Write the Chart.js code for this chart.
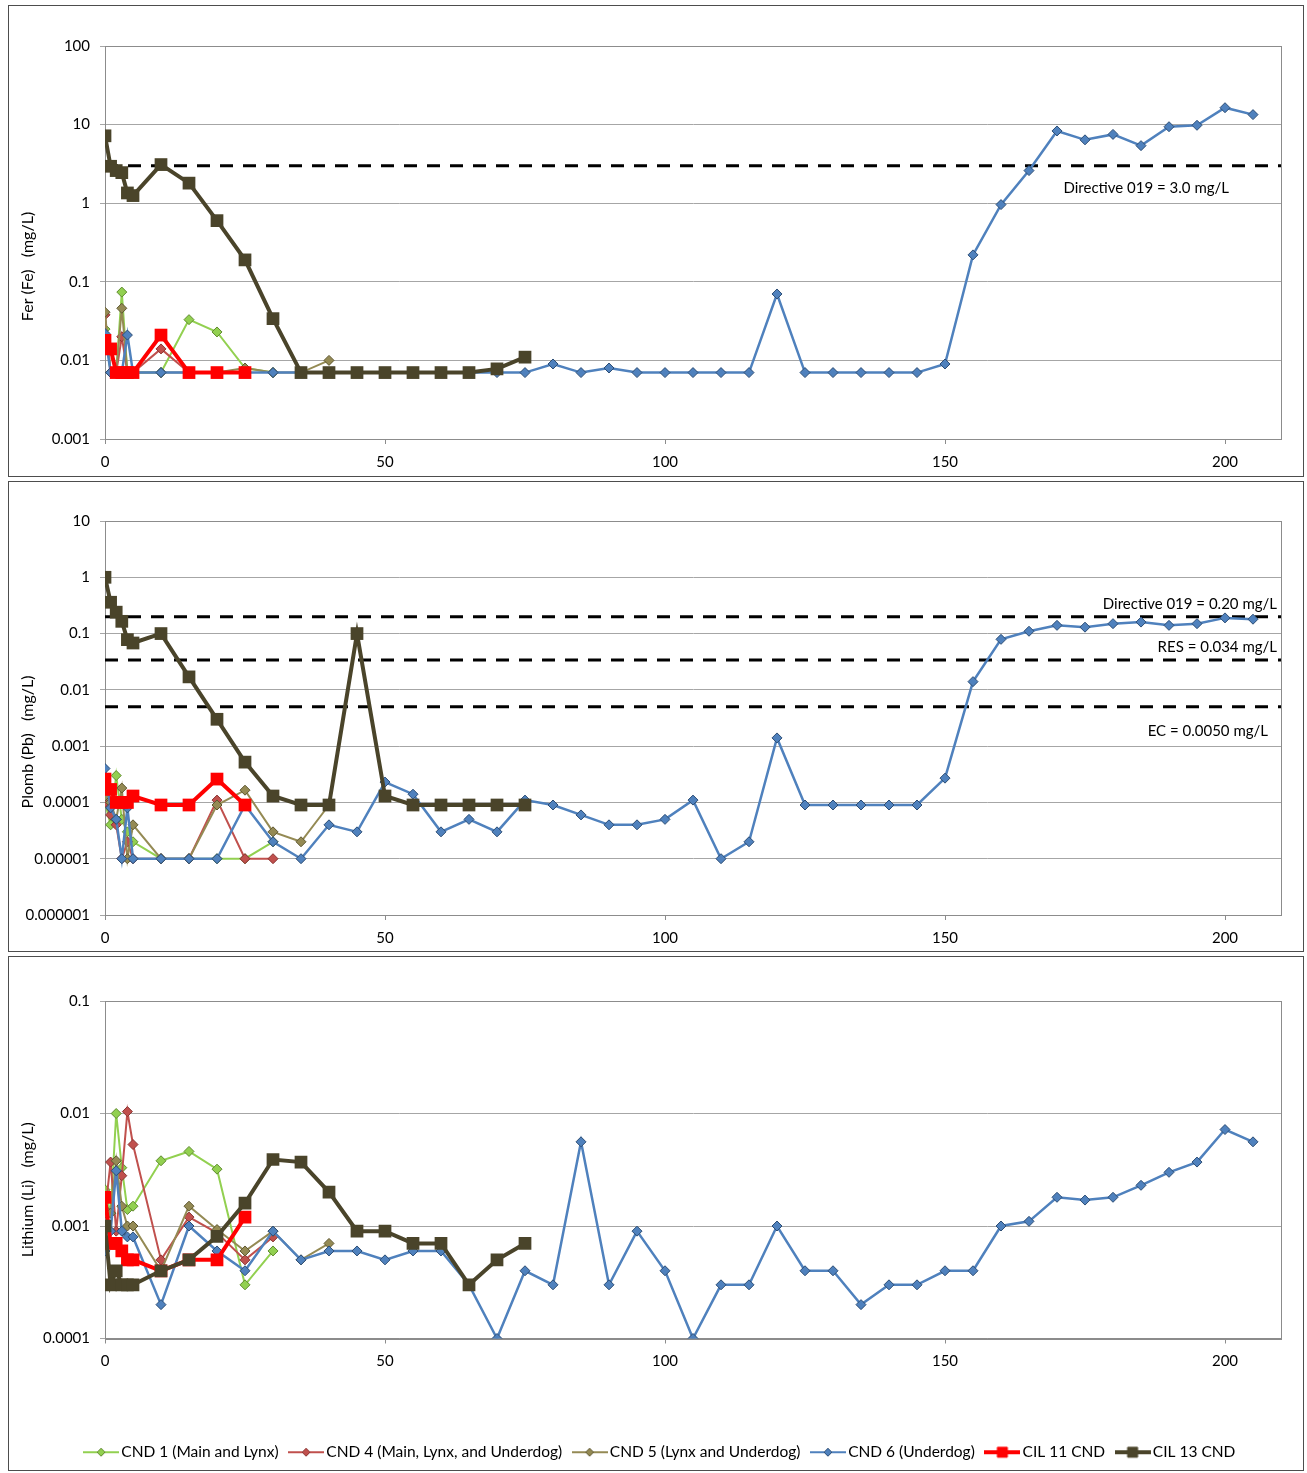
<!DOCTYPE html>
<html>
<head>
<meta charset="utf-8">
<script src="https://cdn.jsdelivr.net/npm/chart.js@4.4.0/dist/chart.umd.min.js"></script>
<style>
    body { margin: 0; background: #fff; width: 1307px; height: 1473px; position: relative; }
    .panel { position: absolute; left: 8px; border: 1px solid #4d4d4d; background: #fff; }
    .panel canvas { display: block; }
</style>
</head>
<body>
<div class="panel" style="top:5px"><canvas id="feChart" width="1294" height="470"></canvas></div>
<div class="panel" style="top:481px"><canvas id="pbChart" width="1294" height="469"></canvas></div>
<div class="panel" style="top:956px"><canvas id="liChart" width="1294" height="513"></canvas></div>

<script>
// 采样时间 (jours)
const days = [0, 1, 2, 3, 4, 5, 10, 15, 20, 25, 30, 35, 40, 45, 50, 55, 60, 65, 70, 75,
    80, 85, 90, 95, 100, 105, 110, 115, 120, 125, 130, 135, 140, 145, 150, 155, 160, 165,
    170, 175, 180, 185, 190, 195, 200, 205];

const seriesNames = ['CND 1 (Main and Lynx)', 'CND 4 (Main, Lynx, and Underdog)',
    'CND 5 (Lynx and Underdog)', 'CND 6 (Underdog)', 'CIL 11 CND', 'CIL 13 CND'];

// Fer (Fe)
const feCnd1 = [0.025, 0.007, 0.007, 0.074, 0.007, 0.007, 0.007, 0.033, 0.023, 0.008, 0.007];
const feCnd4 = [0.038, 0.007, 0.007, 0.02, 0.007, 0.007, 0.014, 0.007, 0.007, 0.007];
const feCnd5 = [0.041, 0.007, 0.007, 0.046, 0.007, 0.007, 0.007, 0.007, 0.007, 0.008, 0.007, 0.007, 0.01];
const feCnd6 = [0.022, 0.007, 0.007, 0.007, 0.021, 0.007,
    0.007, 0.007, 0.007, 0.007, 0.007, 0.007, 0.007, 0.007, 0.007, 0.007, 0.007, 0.007, 0.007, 0.007,
    0.009, 0.007, 0.008, 0.007, 0.007, 0.007, 0.007, 0.007, 0.07, 0.007, 0.007, 0.007, 0.007, 0.007,
    0.009, 0.22, 0.96, 2.6, 8.3, 6.4, 7.5, 5.4, 9.4, 9.8, 16.4, 13.4];
const feCil11 = [0.018, 0.014, 0.007, 0.007, 0.007, 0.007, 0.021, 0.007, 0.007, 0.007];
const feCil13 = [7.2, 2.95, 2.6, 2.45, 1.35, 1.25, 3.1, 1.8, 0.6, 0.19, 0.034, 0.007, 0.007,
    0.007, 0.007, 0.007, 0.007, 0.007, 0.0078, 0.011];
const feTicks = [0.001, 0.01, 0.1, 1, 10, 100];
const feTickLabels = ['0.001', '0.01', '0.1', '1', '10', '100'];
const feLimits = [3.0];
const feLimitLabels = ['Directive 019 = 3.0 mg/L'];

// Plomb (Pb)
const pbCnd1 = [0.0001, 0.00004, 0.0003, 0.00005, 0.00003, 0.00002, 0.00001, 0.00001, 0.00001, 0.00001, 0.00002];
const pbCnd4 = [0.0001, 0.00006, 0.00004, 0.00001, 0.00002, 0.00001, 0.00001, 0.00001, 0.00011, 0.00001, 0.00001];
const pbCnd5 = [0.00013, 0.0001, 0.00005, 0.00018, 0.00001, 0.00004, 0.00001, 0.00001, 0.00009,
    0.000165, 0.00003, 0.00002, 0.00009];
const pbCnd6 = [0.0004, 0.00008, 0.00005, 0.00001, 0.00008, 0.00001,
    0.00001, 0.00001, 0.00001, 0.00009, 0.00002, 0.00001, 0.00004, 0.00003, 0.00023, 0.00014,
    0.00003, 0.00005, 0.00003, 0.00011, 0.00009, 0.00006, 0.00004, 0.00004, 0.00005, 0.00011,
    0.00001, 0.00002, 0.0014, 0.00009, 0.00009, 0.00009, 0.00009, 0.00009, 0.00027, 0.014,
    0.079, 0.11, 0.14, 0.13, 0.15, 0.16, 0.14, 0.15, 0.19, 0.18];
const pbCil11 = [0.00026, 0.00017, 0.0001, 0.0001, 0.0001, 0.00013, 0.00009, 0.00009, 0.00026, 0.00009];
const pbCil13 = [1.0, 0.36, 0.24, 0.165, 0.078, 0.068, 0.1, 0.017, 0.003, 0.00052, 0.00013, 0.00009,
    0.00009, 0.1, 0.00013, 0.00009, 0.00009, 0.00009, 0.00009, 0.00009];
const pbTicks = [0.000001, 0.00001, 0.0001, 0.001, 0.01, 0.1, 1, 10];
const pbTickLabels = ['0.000001', '0.00001', '0.0001', '0.001', '0.01', '0.1', '1', '10'];
const pbLimits = [0.2, 0.034, 0.005];
const pbLimitLabels = ['Directive 019 = 0.20 mg/L', 'RES = 0.034 mg/L', 'EC = 0.0050 mg/L'];

// Lithium (Li)
const liCnd1 = [0.0021, 0.0013, 0.01, 0.0033, 0.0014, 0.0015, 0.0038, 0.0046, 0.0032, 0.0003, 0.0006];
const liCnd4 = [0.0013, 0.0037, 0.0009, 0.0028, 0.0104, 0.0053, 0.0005, 0.0012, 0.00087, 0.0005, 0.0008];
const liCnd5 = [0.0014, 0.0013, 0.0038, 0.0015, 0.001, 0.001, 0.0004, 0.0015, 0.00093, 0.0006, 0.0009,
    0.0005, 0.0007];
const liCnd6 = [0.0006, 0.0009, 0.0031, 0.0009, 0.0008, 0.0008,
    0.0002, 0.001, 0.0006, 0.0004, 0.0009, 0.0005, 0.0006, 0.0006, 0.0005, 0.0006, 0.0006, 0.0003,
    0.0001, 0.0004, 0.0003, 0.0056, 0.0003, 0.0009, 0.0004, 0.0001, 0.0003, 0.0003, 0.001, 0.0004,
    0.0004, 0.0002, 0.0003, 0.0003, 0.0004, 0.0004, 0.001, 0.0011, 0.0018, 0.0017, 0.0018, 0.0023,
    0.003, 0.0037, 0.0072, 0.0056];
const liCil11 = [0.0018, 0.0007, 0.0007, 0.0006, 0.0005, 0.0005, 0.0004, 0.0005, 0.0005, 0.0012];
const liCil13 = [0.001, 0.0003, 0.0004, 0.0003, 0.0003, 0.0003, 0.0004, 0.0005, 0.00081, 0.0016, 0.0039,
    0.0037, 0.002, 0.0009, 0.0009, 0.0007, 0.0007, 0.0003, 0.0005, 0.0007];
const liTicks = [0.0001, 0.001, 0.01, 0.1];
const liTickLabels = ['0.0001', '0.001', '0.01', '0.1'];

// 样式
const lineColors = ['#92D050', '#C0504D', '#948A54', '#4F81BD', '#FF0000', '#4A442A'];
const pointFills = ['#92D050', '#C0504D', '#948A54', '#4F81BD', '#FF0000', '#4A442A'];
const pointBorders = ['#5F8A2E', '#8A3432', '#5E5730', '#2C4D75', '#FF0000', '#4A442A'];
const lineWidths = [2, 2, 2, 2.5, 4, 4];
const pointStyles = ['rectRot', 'rectRot', 'rectRot', 'rectRot', 'rect', 'rect'];
const pointRadii = [5, 5, 5, 5, 9, 9];
const drawOrder = [5, 4, 3, 2, 1, 0];
const FONT = "Lato, 'Liberation Sans', sans-serif";

Chart.defaults.font.family = FONT;
Chart.defaults.font.size = 15;
Chart.defaults.color = '#000';

// 图例符号: 线 + 标记
function legendSymbol(i) {
    const c = document.createElement('canvas');
    c.width = 36;
    c.height = 14;
    const g = c.getContext('2d');
    g.strokeStyle = lineColors[i];
    g.lineWidth = i >= 4 ? 4 : 2;
    g.beginPath();
    g.moveTo(0, 7);
    g.lineTo(36, 7);
    g.stroke();
    g.fillStyle = pointFills[i];
    g.strokeStyle = pointBorders[i];
    g.lineWidth = 1;
    g.beginPath();
    if (pointStyles[i] === 'rectRot') {
        g.moveTo(18, 3); g.lineTo(22, 7); g.lineTo(18, 11); g.lineTo(14, 7); g.closePath();
    } else {
        g.rect(13, 2, 10, 10);
    }
    g.fill();
    g.stroke();
    return c;
}

const panelDecor = {
    id: 'panelDecor',
    beforeDatasetsDraw(chart, args, opts) {
        const {ctx, chartArea: a} = chart;
        ctx.save();
        ctx.strokeStyle = '#8c8c8c';
        ctx.lineWidth = 1;
        ctx.strokeRect(Math.round(a.left) + 0.5, Math.round(a.top) + 0.5,
            Math.round(a.right - a.left), Math.round(a.bottom - a.top));
        ctx.restore();
    },
    afterDraw(chart, args, opts) {
        const {ctx, chartArea: a} = chart;
        const y = chart.scales.y;
        ctx.save();
        ctx.fillStyle = '#000';
        ctx.font = '16px ' + FONT;
        // 纵轴标题
        ctx.translate(19, (a.top + a.bottom) / 2 + opts.titleShift);
        ctx.rotate(-Math.PI / 2);
        ctx.textAlign = 'center';
        ctx.textBaseline = 'middle';
        ctx.fillText(opts.title, 0, 0);
        ctx.restore();
        // 限值标注
        ctx.save();
        ctx.fillStyle = '#000';
        ctx.font = '15px ' + FONT;
        ctx.textAlign = 'right';
        ctx.textBaseline = 'middle';
        (opts.labels || []).forEach(l => {
            ctx.fillText(l.text, a.right - l.dx, y.getPixelForValue(l.value) + l.dy);
        });
        ctx.restore();
    }
};

function makeChart(id, series, ticks, tickLabels, limits, limitLabels, decor, box) {
    const datasets = series.map((vals, i) => ({
        label: seriesNames[i],
        data: vals.map((v, j) => ({x: days[j], y: v})),
        borderColor: lineColors[i],
        backgroundColor: pointFills[i],
        pointBackgroundColor: pointFills[i],
        pointBorderColor: pointBorders[i],
        pointBorderWidth: i >= 4 ? 0 : 1,
        borderWidth: lineWidths[i],
        pointStyle: pointStyles[i],
        pointRadius: pointRadii[i],
        tension: 0,
        order: drawOrder[i]
    }));
    limits.forEach(v => {
        datasets.push({
            label: '',
            data: [{x: 0, y: v}, {x: 210, y: v}],
            borderColor: '#000',
            borderWidth: 3,
            borderDash: [13, 10],
            pointRadius: 0,
            order: 10
        });
    });
    decor.labels = (decor.labels || []).map((l, k) => ({...l, text: limitLabels[k], value: limits[k]}));
    const padLeft = box.left || 0;

    return new Chart(document.getElementById(id), {
        type: 'line',
        data: {datasets},
        plugins: [panelDecor],
        options: {
            responsive: false,
            animation: false,
            events: [],
            layout: {padding: {top: box.top, right: box.right, left: padLeft, bottom: 0}},
            scales: {
                x: {
                    type: 'linear',
                    min: 0,
                    max: 210,
                    afterFit: s => { s.height = box.xh; },
                    ticks: {stepSize: 50, includeBounds: false, padding: 9, maxRotation: 0},
                    grid: {drawOnChartArea: false, tickLength: 5, color: '#8c8c8c'},
                    border: {color: '#8c8c8c'}
                },
                y: {
                    type: 'logarithmic',
                    min: ticks[0],
                    max: ticks[ticks.length - 1],
                    afterFit: s => { s.width = 96 - padLeft; },
                    afterBuildTicks: s => { s.ticks = ticks.map(v => ({value: v})); },
                    ticks: {padding: 10, callback: (v, i) => tickLabels[i]},
                    grid: {color: '#a6a6a6', tickLength: 5},
                    border: {color: '#8c8c8c'}
                }
            },
            plugins: {
                panelDecor: decor,
                tooltip: {enabled: false},
                legend: box.legend ? {
                    display: true,
                    position: 'bottom',
                    labels: {
                        usePointStyle: true,
                        pointStyleWidth: 25,
                        padding: 15,
                        font: {size: 15.5},
                        generateLabels: chart => Chart.defaults.plugins.legend.labels.generateLabels(chart)
                            .filter(l => l.datasetIndex < seriesNames.length)
                            .sort((a, b) => a.datasetIndex - b.datasetIndex)
                            .map(l => ({...l, pointStyle: legendSymbol(l.datasetIndex)}))
                    }
                } : {display: false}
            }
        }
    });
}

makeChart('feChart', [feCnd1, feCnd4, feCnd5, feCnd6, feCil11, feCil13], feTicks, feTickLabels,
    feLimits, feLimitLabels,
    {title: 'Fer (Fe)   (mg/L)', titleShift: 24, labels: [{dx: 52, dy: 22}]},
    {top: 40, right: 22, xh: 37});

makeChart('pbChart', [pbCnd1, pbCnd4, pbCnd5, pbCnd6, pbCil11, pbCil13], pbTicks, pbTickLabels,
    pbLimits, pbLimitLabels,
    {title: 'Plomb (Pb)   (mg/L)', titleShift: 24, labels: [{dx: 4, dy: -12}, {dx: 4, dy: -13}, {dx: 13, dy: 24}]},
    {top: 39, right: 22, xh: 36});

makeChart('liChart', [liCnd1, liCnd4, liCnd5, liCnd6, liCil11, liCil13], liTicks, liTickLabels,
    [], [],
    {title: 'Lithium (Li)   (mg/L)', titleShift: 20},
    {top: 44, right: 22, left: 34, xh: 91, legend: true});
</script>
</body>
</html>
